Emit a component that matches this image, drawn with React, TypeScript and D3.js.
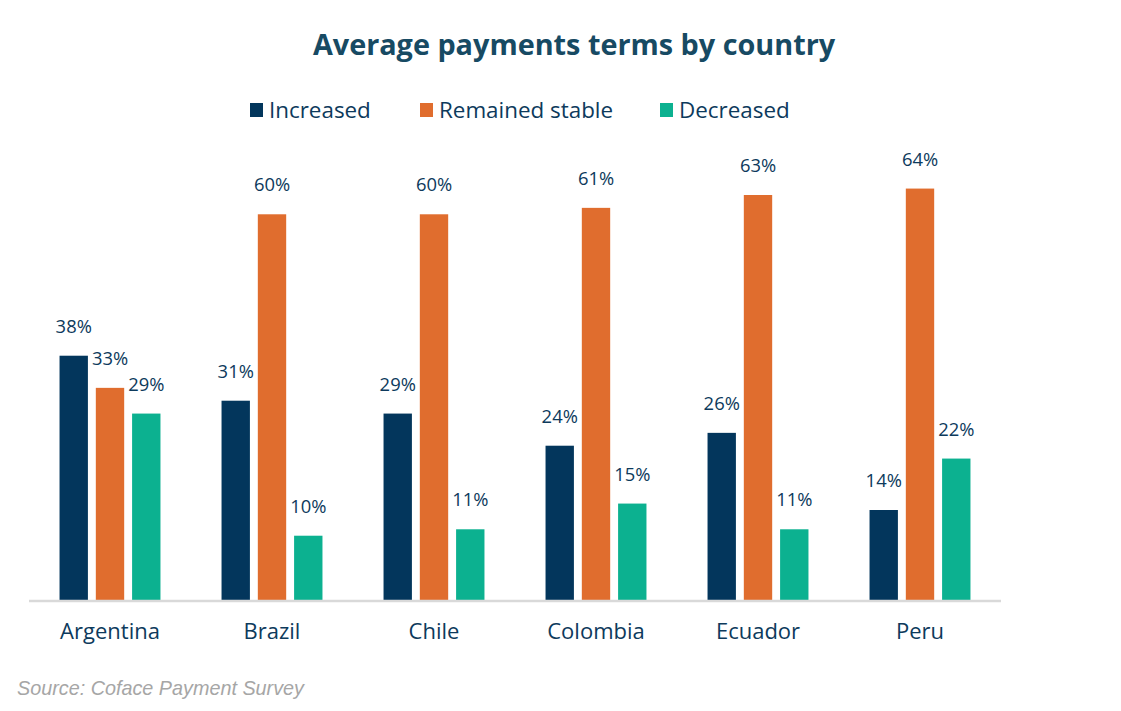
import React, { useEffect, useRef } from 'react';
import * as d3 from 'd3';

const countries = ['Argentina', 'Brazil', 'Chile', 'Colombia', 'Ecuador', 'Peru'];
const seriesNames = ['Increased', 'Remained stable', 'Decreased'];
const increased = [38, 31, 29, 24, 26, 14];
const remainedStable = [33, 60, 60, 61, 63, 64];
const decreased = [29, 10, 11, 15, 11, 22];
const seriesColors = ['#03365c', '#e06d2e', '#0cb190'];

const App: React.FC = () => {
  const svgRef = useRef<SVGSVGElement>(null);

  useEffect(() => {
    if (!svgRef.current) return;
    const svg = d3.select(svgRef.current);
    svg.selectAll('*').remove();

    const font = "'Open Sans', 'Noto Sans', sans-serif";
    const textColor = '#0d3a5c';

    const values = [increased, remainedStable, decreased];

    const x0 = d3.scaleBand<string>()
      .domain(countries)
      .range([29, 1001])
      .paddingInner(0.377)
      .paddingOuter(0.1885);

    const x1 = d3.scaleBand<string>()
      .domain(seriesNames)
      .range([0, x0.bandwidth()])
      .paddingInner(0.218);

    const y = d3.scaleLinear().domain([0, 70]).range([600, 150]);

    // title
    svg.append('text')
      .attr('x', 574)
      .attr('y', 55)
      .attr('text-anchor', 'middle')
      .style('font-family', font)
      .style('font-size', '28.8px')
      .style('font-weight', 'bold')
      .style('fill', '#174a63')
      .text('Average payments terms by country');

    // legend
    const legendX = [250, 420, 660];
    seriesNames.forEach((name, i) => {
      const lg = svg.append('g').attr('transform', `translate(${legendX[i]},110)`);
      lg.append('rect')
        .attr('x', 0)
        .attr('y', -7)
        .attr('width', 13)
        .attr('height', 14)
        .attr('fill', seriesColors[i]);
      lg.append('text')
        .attr('x', 19)
        .attr('y', 8)
        .style('font-family', font)
        .style('font-size', '22.4px')
        .style('fill', textColor)
        .text(name);
    });

    // bars
    const groups = svg.append('g')
      .selectAll('g')
      .data(countries)
      .enter().append('g')
      .attr('transform', d => `translate(${x0(d)},0)`);

    seriesNames.forEach((name, si) => {
      groups.append('rect')
        .attr('x', x1(name) as number)
        .attr('y', (_d, ci) => y(values[si][ci]))
        .attr('width', x1.bandwidth())
        .attr('height', (_d, ci) => y(0) - y(values[si][ci]))
        .attr('fill', seriesColors[si]);

      groups.append('text')
        .attr('x', (x1(name) as number) + x1.bandwidth() / 2)
        .attr('y', (_d, ci) => y(values[si][ci]) - 23)
        .attr('text-anchor', 'middle')
        .style('font-family', font)
        .style('font-size', '18.4px')
        .style('fill', textColor)
        .text((_d, ci) => `${values[si][ci]}%`);
    });

    // axis line
    svg.append('line')
      .attr('x1', 29)
      .attr('x2', 1001)
      .attr('y1', 601)
      .attr('y2', 601)
      .attr('stroke', '#d9d9d9')
      .attr('stroke-width', 2.5);

    // category labels
    svg.append('g')
      .selectAll('text')
      .data(countries)
      .enter().append('text')
      .attr('x', d => (x0(d) as number) + x0.bandwidth() / 2)
      .attr('y', 639)
      .attr('text-anchor', 'middle')
      .style('font-family', font)
      .style('font-size', '22px')
      .style('fill', textColor)
      .text(d => d);

    // source
    svg.append('text')
      .attr('x', 17)
      .attr('y', 695)
      .style('font-family', "'Liberation Sans', Arial, sans-serif")
      .style('font-size', '19.8px')
      .style('font-style', 'italic')
      .style('fill', '#a6a6a6')
      .text('Source: Coface Payment Survey');
  }, []);

  return (
    <div style={{ position: 'fixed', left: 0, top: 0 }}>
      <svg ref={svgRef} width={1121} height={711} style={{ display: 'block', background: '#ffffff' }} />
    </div>
  );
};

export default App;
